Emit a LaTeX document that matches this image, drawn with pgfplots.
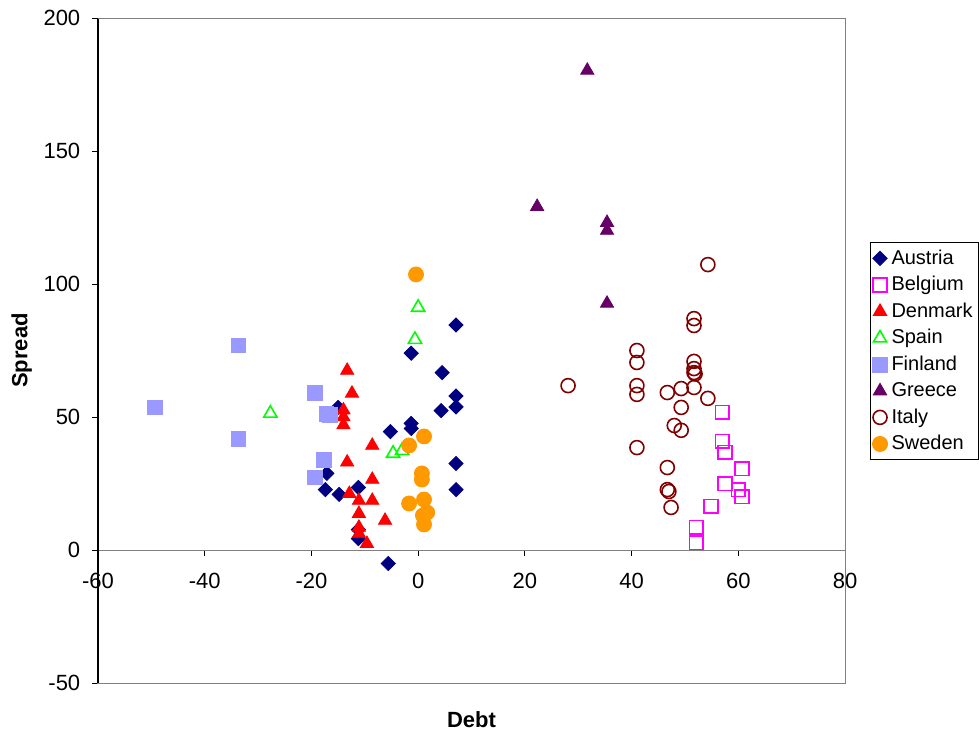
\documentclass[border=0pt]{standalone}
\usepackage{fontspec}
\setmainfont{Liberation Sans}
\usepackage{pgfplots}
\pgfplotsset{compat=1.18}

\definecolor{austria}{RGB}{0,0,128}
\definecolor{belgium}{RGB}{255,0,255}
\definecolor{denmark}{RGB}{255,0,0}
\definecolor{spain}{RGB}{0,255,0}
\definecolor{finland}{RGB}{153,153,255}
\definecolor{greece}{RGB}{102,0,102}
\definecolor{italy}{RGB}{128,0,0}
\definecolor{sweden}{RGB}{255,153,0}

\begin{document}
\begin{tikzpicture}
% page = 979 x 735 px at 0.5pt per px, plot area lower-left at origin
\useasboundingbox (-49pt,-26pt) rectangle (440.5pt,341.5pt);
\begin{axis}[
    scale only axis,
    width=373.5pt, height=332.5pt,
    xmin=-60, xmax=80,
    ymin=-50, ymax=200,
    xtick={-60,-40,...,80},
    ytick={-50,0,50,100,150,200},
    axis x line=middle,
    axis y line=left,
    axis line style={-},
    x axis line style={gray},
    y axis line style={black},
    hide obscured x ticks=false,
    hide obscured y ticks=false,
    tick align=outside,
    major tick length=3pt,
    tick style={black, line width=0.5pt},
    x tick label style={anchor=north, yshift=-5.1pt},
    y tick label style={anchor=east, xshift=-2.35pt},
    ticklabel style={font=\fontsize{11}{13}\selectfont},
    /pgf/number format/assume math mode=true,
    xlabel={\textbf{Debt}},
    ylabel={\textbf{Spread}},
    xlabel style={at={(axis description cs:0.5,0)}, anchor=center, yshift=-18.5pt, font=\fontsize{11}{13}\selectfont},
    ylabel style={at={(axis description cs:-0.102,0.5)}, anchor=center, rotate=0, font=\fontsize{11}{13}\selectfont},
    legend style={at={(rel axis cs:1.0335,0.663)}, anchor=north west,
        draw=black, line width=0.5pt, font=\fontsize{10}{12}\selectfont,
        row sep=0.55pt, inner xsep=1pt, inner ysep=1.5pt,
        /tikz/every odd column/.append style={column sep=0pt}},
    legend cell align=left,
    clip=false,
    after end axis/.code={
        \draw[gray, line width=0.5pt] (rel axis cs:0,0) rectangle (rel axis cs:1,1);
        \draw[black, line width=0.5pt] (rel axis cs:0,0) -- (rel axis cs:0,1);
    },
]

% Austria
\addplot[only marks, mark=square*, mark size=2.5pt,
    mark options={austria, fill=austria, rotate=45}] coordinates {
    (7.1,84.6) (-1.3,74.0) (4.5,66.7) (7.1,57.9) (7.1,53.8) (4.3,52.4)
    (-5.2,44.5) (-1.3,47.6) (-1.3,45.7) (-15.0,53.6) (-17.1,28.8)
    (-17.4,22.7) (-14.8,20.9) (-11.2,23.5) (-11.2,7.7) (-11.2,4.3)
    (7.1,32.5) (7.1,22.7) (-5.6,-5.1)
};
\addlegendentry{Austria}

% Belgium
\addplot[only marks, mark=square, mark size=3.4pt,
    mark options={draw=belgium, fill=none, line width=0.8pt}] coordinates {
    (57.0,51.7) (57.0,40.8) (57.5,36.7) (60.7,30.6) (57.5,25.0)
    (60.0,22.7) (60.7,20.1) (54.9,16.4) (52.1,8.5) (52.1,2.8)
};
\addlegendentry{Belgium}

% Denmark
\addplot[only marks, mark=triangle*, mark size=3.8pt,
    mark options={denmark, fill=denmark}] coordinates {
    (-13.3,67.5) (-12.4,58.9) (-14.0,52.6) (-14.0,50.0) (-14.0,47.0)
    (-8.6,39.3) (-13.3,33.0) (-8.6,26.5) (-12.9,21.2) (-11.1,18.6)
    (-8.6,18.6) (-11.1,13.7) (-6.2,11.1) (-11.1,8.5) (-11.1,6.2) (-9.6,2.4)
};
\addlegendentry{Denmark}

% Spain
\addplot[only marks, mark=triangle, mark size=3.8pt,
    mark options={draw=spain, fill=none, line width=0.8pt}] coordinates {
    (-27.7,51.4) (0.0,91.2) (-0.6,79.1) (-4.7,36.3) (-3.0,37.4)
};
\addlegendentry{Spain}

% Finland
\addplot[only marks, mark=square*, mark size=3.7pt,
    mark options={finland, fill=finland}] coordinates {
    (-49.3,53.6) (-33.7,76.9) (-33.7,41.9) (-19.3,59.2) (-17.2,51.3)
    (-16.5,50.9) (-17.6,34.0) (-19.3,27.3)
};
\addlegendentry{Finland}

% Greece
\addplot[only marks, mark=triangle*, mark size=3.8pt,
    mark options={greece, fill=greece}] coordinates {
    (31.7,180.3) (22.3,129.1) (35.4,123.1) (35.4,120.1) (35.4,92.7)
};
\addlegendentry{Greece}

% Italy
\addplot[only marks, mark=o, mark size=3.5pt,
    mark options={draw=italy, fill=none, line width=0.8pt}] coordinates {
    (54.3,107.3) (51.7,87.0) (51.7,84.4) (41.0,75.0) (41.0,70.5)
    (51.7,70.9) (51.7,68.2) (51.7,66.7) (51.9,66.2) (28.1,61.8)
    (41.0,61.8) (41.0,58.5) (46.7,59.2) (49.3,60.7) (51.7,61.1)
    (54.3,57.0) (49.3,53.6) (48.0,46.8) (49.3,45.0) (41.0,38.5)
    (46.7,31.0) (46.7,22.7) (47.0,22.0) (47.4,16.0)
};
\addlegendentry{Italy}

% Sweden
\addplot[only marks, mark=*, mark size=3.75pt,
    mark options={sweden, fill=sweden}] coordinates {
    (-0.4,103.6) (1.1,42.7) (-1.7,39.3) (0.7,28.8) (0.7,26.5)
    (-1.7,17.5) (1.1,19.0) (1.7,14.1) (0.9,13.0) (1.1,9.6)
};
\addlegendentry{Sweden}

\end{axis}
\end{tikzpicture}
\end{document}
